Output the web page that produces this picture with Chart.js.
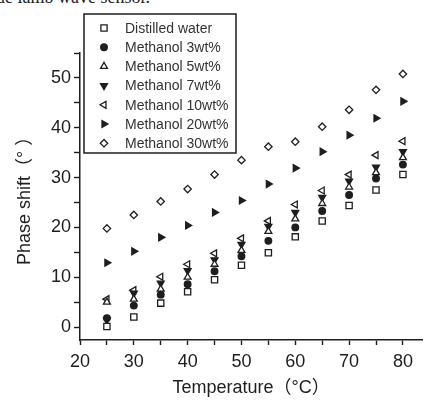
<!DOCTYPE html>
<html lang="en">
<head>
    <meta charset="UTF-8">
    <title>Phase shift vs temperature</title>
    <script src="https://cdn.jsdelivr.net/npm/chart.js"></script>
    <style>
        body { margin: 0; background: #fff; }
        .wrap { position: relative; width: 428px; height: 400px; overflow: hidden; }
        .cut-title {
            position: absolute; left: -4px; top: -13px;
            font: 18px "Liberation Serif", serif; color: #222; white-space: nowrap;
        }
        canvas { position: absolute; left: 0; top: 0; }
    </style>
</head>
<body>
    <div class="wrap">
        <div class="cut-title">ue lamb wave sensor.</div>
        <canvas id="phaseChart" width="428" height="400"></canvas>
    </div>

    <script>
        // temperatures (deg C)
        const temps = [25, 30, 35, 40, 45, 50, 55, 60, 65, 70, 75, 80];

        // phase shift (deg)
        const water   = [0.1, 2.0, 4.8, 7.1, 9.5, 12.4, 14.9, 18.1, 21.3, 24.4, 27.5, 30.6];
        const meth3   = [1.8, 4.3, 6.5, 8.6, 11.2, 14.2, 17.3, 20.0, 23.3, 26.5, 29.8, 32.6];
        const meth5   = [5.0, 5.6, 7.6, 10.0, 12.6, 15.4, 19.2, 21.7, 24.8, 28.1, 31.0, 34.0];
        const meth7   = [1.4, 6.8, 8.8, 11.3, 13.5, 16.6, 20.2, 23.0, 26.0, 29.3, 32.1, 35.2];
        const meth10  = [5.6, 7.4, 10.1, 12.6, 14.8, 17.8, 21.3, 24.6, 27.4, 30.6, 34.5, 37.3];
        const meth20  = [12.9, 15.2, 18.0, 20.4, 23.0, 25.4, 28.7, 31.9, 35.2, 38.5, 41.9, 45.3];
        const meth30  = [19.8, 22.5, 25.2, 27.7, 30.6, 33.5, 36.2, 37.2, 40.2, 43.6, 47.6, 50.8];

        const labels = ['Distilled water', 'Methanol 3wt%', 'Methanol 5wt%', 'Methanol 7wt%',
                        'Methanol 10wt%', 'Methanol 20wt%', 'Methanol 30wt%'];

        const ink = '#1e1e1e';
        const fontName = '"Liberation Sans", "Noto Sans CJK JP", sans-serif';

        // marker looks: style, rotation, filled?, radius
        const markers = [
            ['rect', 0, false, 4.4],
            ['circle', 0, true, 3.3],
            ['triangle', 0, false, 4.0],
            ['triangle', 180, true, 4.0],
            ['triangle', 270, false, 4.0],
            ['triangle', 90, true, 4.0],
            ['rectRot', 0, false, 3.7]
        ];

        const series = [water, meth3, meth5, meth7, meth10, meth20, meth30];
        const datasets = series.map((vals, i) => ({
            label: labels[i],
            data: vals.map((v, j) => ({ x: temps[j], y: v })),
            showLine: false,
            pointStyle: markers[i][0],
            pointRotation: markers[i][1],
            pointRadius: markers[i][3],
            pointBackgroundColor: markers[i][2] ? ink : '#fff',
            pointBorderColor: ink,
            pointBorderWidth: 1.3,
            clip: false
        }));

        // legend box sitting in the top-left corner of the plot
        const boxLegend = {
            id: 'boxLegend',
            afterDraw(chart) {
                const ctx = chart.ctx;
                ctx.save();
                ctx.fillStyle = '#fff';
                ctx.fillRect(84, 14, 152, 139);
                ctx.strokeStyle = ink;
                ctx.lineWidth = 1.5;
                ctx.strokeRect(84, 14, 152, 139);
                chart.data.datasets.forEach((ds, i) => {
                    const y = 28 + i * 19.2;
                    ctx.fillStyle = ds.pointBackgroundColor;
                    ctx.strokeStyle = ds.pointBorderColor;
                    ctx.lineWidth = ds.pointBorderWidth;
                    Chart.helpers.drawPoint(ctx, {
                        pointStyle: ds.pointStyle,
                        rotation: ds.pointRotation,
                        radius: ds.pointRadius,
                        borderWidth: ds.pointBorderWidth
                    }, 104, y);
                    ctx.fillStyle = '#333';
                    ctx.font = '14px ' + fontName;
                    ctx.textBaseline = 'middle';
                    ctx.textAlign = 'left';
                    ctx.fillText(ds.label, 125, y + 1);
                });
                ctx.restore();
            }
        };

        const tickLabel = v => (v % 10 === 0 ? v : '');

        const ctx = document.getElementById('phaseChart').getContext('2d');
        const phaseChart = new Chart(ctx, {
            type: 'scatter',
            data: { datasets: datasets },
            plugins: [boxLegend],
            options: {
                responsive: false,
                animation: false,
                layout: { padding: { top: 53, right: 0, bottom: 0, left: 0 } },
                plugins: {
                    legend: { display: false },
                    tooltip: { enabled: false }
                },
                scales: {
                    x: {
                        type: 'linear',
                        min: 20,
                        max: 83.6,
                        afterFit: s => { s.height = 60; },
                        ticks: {
                            stepSize: 5,
                            includeBounds: false,
                            autoSkip: false,
                            maxRotation: 0,
                            padding: 6,
                            color: ink,
                            font: { family: fontName, size: 18 },
                            callback: tickLabel
                        },
                        grid: { drawOnChartArea: false, tickLength: 5, tickColor: ink, tickWidth: 1.4 },
                        border: { color: ink, width: 1.5 },
                        title: {
                            display: true,
                            text: 'Temperature（°C）',
                            color: ink,
                            font: { family: fontName, size: 18 },
                            padding: { top: 0, bottom: 1 }
                        }
                    },
                    y: {
                        min: -2.6,
                        max: 55,
                        afterFit: s => { s.width = 80; },
                        ticks: {
                            stepSize: 5,
                            includeBounds: false,
                            autoSkip: false,
                            padding: 3,
                            color: ink,
                            font: { family: fontName, size: 18 },
                            callback: tickLabel
                        },
                        grid: { drawOnChartArea: false, tickLength: 6, tickColor: ink, tickWidth: 1.4 },
                        border: { color: ink, width: 1.5 },
                        title: {
                            display: true,
                            text: 'Phase shift（° ）',
                            color: ink,
                            font: { family: fontName, size: 18 },
                            padding: { top: 14, bottom: 0 }
                        }
                    }
                }
            }
        });
    </script>
</body>
</html>
